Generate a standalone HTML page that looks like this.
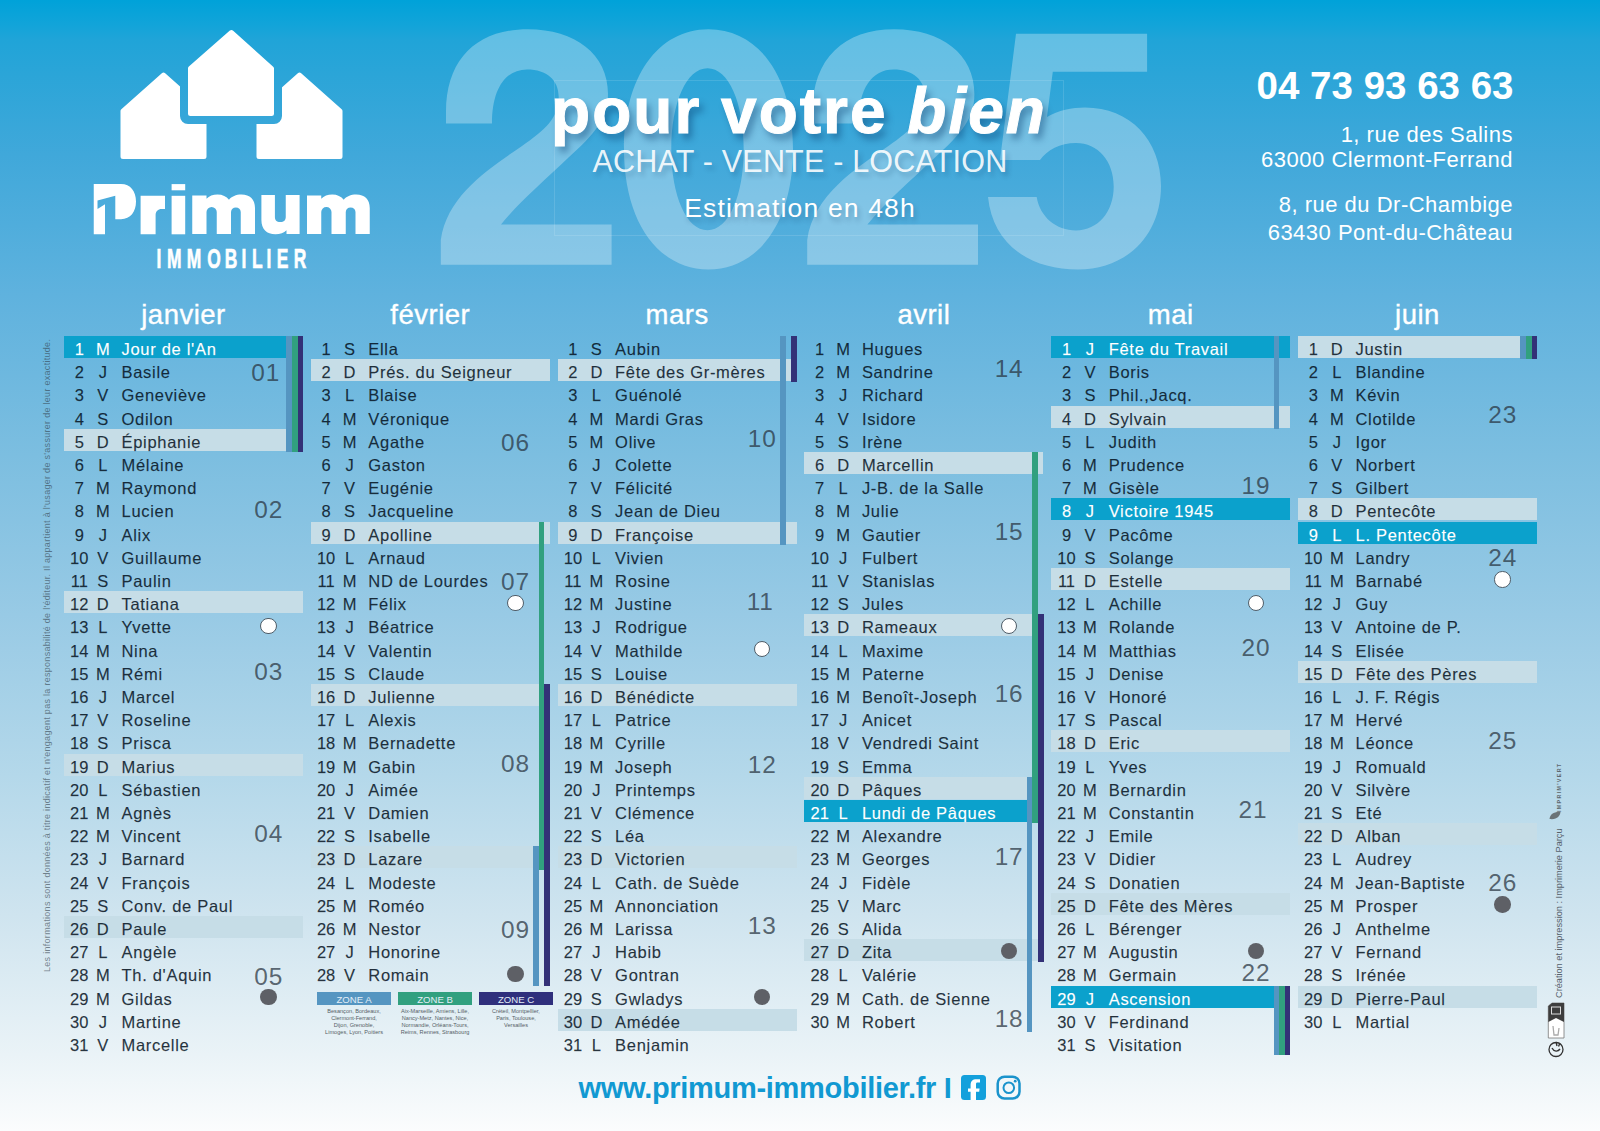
<!DOCTYPE html>
<html lang="fr">
<head>
<meta charset="utf-8">
<title>Primum Immobilier - Calendrier 2025</title>
<style>
html,body{margin:0;padding:0;}
body{width:1600px;height:1131px;overflow:hidden;position:relative;font-family:"Liberation Sans",sans-serif;
background:linear-gradient(to bottom,#00a2d9 0px,#12a4d9 25px,#20a4d8 40px,#2ba5d8 75px,#40a8da 155px,#5fb2de 295px,#7cbee0 455px,#98cae5 615px,#b4d8ea 775px,#cfe4ef 915px,#eaf3f7 1055px,#fbfcfd 1131px);}
.abs{position:absolute;}
/* header */
.y2025{position:absolute;left:430px;top:-16px;font-size:333px;font-weight:700;line-height:1;color:#fff;-webkit-text-stroke:3.2px #fff;opacity:0.3;letter-spacing:-0.6px;white-space:nowrap;}
.frame{position:absolute;left:554px;top:80px;width:508px;height:154px;border:1px solid rgba(255,255,255,0.12);}
.slogan{position:absolute;left:0;width:1600px;text-align:center;color:#fff;white-space:nowrap;}
.s1{left:-1px;top:73.5px;font-size:64px;font-weight:700;letter-spacing:2.0px;-webkit-text-stroke:0.7px #fff;text-shadow:4px 6px 7px rgba(0,45,95,0.4);-webkit-text-stroke:1px #fff;}
.s1 i{font-style:italic;}
.s2{top:144px;font-size:30.5px;font-weight:400;letter-spacing:0.2px;color:rgba(255,255,255,0.9);text-shadow:3px 4px 5px rgba(0,40,80,0.22);}
.s3{top:192.5px;font-size:26.5px;font-weight:400;letter-spacing:1.15px;text-shadow:2px 4px 5px rgba(0,40,80,0.25);}
.phone{position:absolute;right:86.5px;top:63.5px;font-size:38.5px;font-weight:700;color:#fff;white-space:nowrap;}
.addr{position:absolute;right:87px;font-size:22px;color:#fff;letter-spacing:0.5px;white-space:nowrap;text-align:right;line-height:22px;}
/* calendar */
.mt{position:absolute;top:298.5px;width:239px;text-align:center;color:#fff;font-size:27.5px;letter-spacing:0.5px;line-height:32px;-webkit-text-stroke:0.35px #fff;}
.hl{position:absolute;width:239px;height:22px;}
.sun{background:#c6dde7;}
.hol{background:#0ba1cc;}
.bar{position:absolute;width:5.7px;}
.zA{background:#5595c1;}
.zB{background:#31a07f;}
.zC{background:#333177;}
.r{position:absolute;width:239px;height:23.2px;line-height:23.2px;padding-top:1px;font-size:16.5px;color:rgba(5,18,30,0.86);-webkit-text-stroke:0.25px rgba(5,18,30,0.5);white-space:nowrap;}
.r span{position:absolute;top:2px;}
.r .n{left:0.3px;width:30px;text-align:center;}
.r .l{left:23.75px;width:30px;text-align:center;}
.r .nm{left:57.5px;letter-spacing:0.7px;}
.r.hw{color:#fff;-webkit-text-stroke:0.25px rgba(255,255,255,0.5);}
.wk{position:absolute;width:218.2px;text-align:right;font-size:24.4px;line-height:23.2px;padding-top:0px;letter-spacing:0.9px;color:rgba(40,52,64,0.74);}
.moon{position:absolute;width:16.4px;height:16.4px;margin-left:-8.2px;margin-top:-8.2px;border-radius:50%;box-sizing:border-box;}
.moon.w{background:#fff;border:1.7px solid #4f5d68;}
.moon.d{background:#5e6066;}
/* zones legend */
.zone{position:absolute;top:992px;width:74px;height:13px;color:#e3eef8;font-size:9.6px;text-align:center;line-height:15px;}
.ztxt{position:absolute;top:1008px;width:80px;text-align:center;font-size:5.6px;line-height:7px;color:#555e66;}
/* vertical texts */
.vleft{position:absolute;left:42px;top:972px;transform-origin:0 0;transform:rotate(-90deg);font-size:9px;letter-spacing:0.29px;line-height:10px;color:rgba(50,62,74,0.62);white-space:nowrap;}
.vright{position:absolute;left:1553.5px;top:998px;transform-origin:0 0;transform:rotate(-90deg);font-size:9.2px;line-height:10px;letter-spacing:0px;color:#56616b;white-space:nowrap;}
.foot{position:absolute;left:578.5px;top:1072px;font-size:29px;letter-spacing:-0.3px;font-weight:700;color:#1199d2;white-space:nowrap;}
</style>
</head>
<body>
<!-- big year -->
<svg class="abs" style="left:0;top:0" width="1200" height="290" viewBox="0 0 1200 290">
 <g fill="#fff" fill-opacity="0.3" fill-rule="evenodd">
  <path d="M 440.8 264.8 L 611.6 264.8 L 611.6 224.6 L 501 224.6 C 518 203 545 180 568 158 C 595 134 608 118 608 94 C 608 54 575 29.2 528 29.2 C 478 29.2 446 58 446 112 L 446 123.4 L 492 123.4 C 492 88 506 69.4 527 69.4 C 547 69.4 558.7 80 558.7 97 C 558.7 118 545 130 522 146 C 490 168 447 195 440.8 240 Z"/>
  <path d="M 708.5 29.200000000000017 C 759.2 29.200000000000017 793.0 77.24000000000002 793.0 149.3 C 793.0 221.36 759.2 269.4 708.5 269.4 C 657.8 269.4 624.0 221.36 624.0 149.3 C 624.0 77.24000000000002 657.8 29.200000000000017 708.5 29.200000000000017 Z M 707.5 68.30000000000001 C 728.496 68.30000000000001 743.7 102.32000000000002 743.7 149.3 C 743.7 196.28 728.496 230.3 707.5 230.3 C 686.504 230.3 671.3 196.28 671.3 149.3 C 671.3 102.32000000000002 686.504 68.30000000000001 707.5 68.30000000000001 Z"/>
  <path d="M 807.2 264.8 L 978.0 264.8 L 978.0 224.6 L 867.4 224.6 C 884.4 203 911.4 180 934.4 158 C 961.4 134 974.4 118 974.4 94 C 974.4 54 941.4 29.2 894.4 29.2 C 844.4 29.2 812.4 58 812.4 112 L 812.4 123.4 L 858.4 123.4 C 858.4 88 872.4 69.4 893.4 69.4 C 913.4 69.4 925.1 80 925.1 97 C 925.1 118 911.4 130 888.4 146 C 856.4 168 813.4 195 807.2 240 Z"/>
  <path d="M 1016 33.8 H 1147.1 V 71.7 H 1052.8 L 1047 117 C 1058 110 1072 107.4 1085 107.4 C 1130 107.4 1161 140 1161 186 C 1161 236 1126 269.5 1078 269.5 C 1030 269.5 993 245 988 197 L 1036.7 197 C 1040 217 1056 230.4 1076 230.4 C 1098 230.4 1113.7 212 1113.7 186.5 C 1113.7 161 1098 143 1076 143 C 1060 143 1047 150 1040 160 L 1000 160 Z"/>
 </g>
</svg>
<div class="frame"></div>

<!-- logo -->
<svg class="abs" style="left:0;top:0" width="420" height="290" viewBox="0 0 420 290">
 <defs>
  <mask id="hm" maskUnits="userSpaceOnUse" x="0" y="0" width="420" height="290">
   <rect x="0" y="0" width="420" height="290" fill="#fff"/>
   <path d="M231.5 30 L274 68 L274 116 L188 116 L188 68 Z" fill="#000" stroke="#000" stroke-width="16" stroke-linejoin="round"/>
  </mask>
 </defs>
 <g fill="#fff" stroke="#fff" stroke-width="5" stroke-linejoin="round" mask="url(#hm)">
  <path d="M163.5 75 L204 111 L204 156.5 L123 156.5 L123 111 Z"/>
  <path d="M299.5 75 L340 111 L340 156.5 L259 156.5 L259 111 Z"/>
 </g>
 <path d="M231.5 32.5 L271.5 68.5 L271.5 113.5 L190.5 113.5 L190.5 68.5 Z" fill="#fff" stroke="#fff" stroke-width="5" stroke-linejoin="round"/>
 <g fill="#fff">
  <path d="M 93.75 184.1 L 121 184.1 C 130.5 184.1 136 191.5 136 201.6 C 136 211.8 130.5 219.3 121 219.3 L 115.3 219.3 L 115.3 195.8 L 97.5 200.5 L 97.5 209 L 105 204.3 L 105 234.3 L 93.75 234.3 Z"/>
  <path d="M 140.6 234.3 V 195.8 H 165 V 209 H 161.5 C 158 209 155.6 211.5 155.6 215 V 234.3 Z"/>
  <rect x="171.6" y="184.1" width="13.6" height="6.2"/>
  <rect x="171.6" y="195.8" width="13.6" height="38.5"/>
  <path d="M 192.25 234 V 195.5 H 206.50 V 198.8 C 209.00 196 213.00 194.5 217.50 194.5 C 222.50 194.5 226.50 196.5 229.00 199.8 C 231.50 196.5 236.00 194.5 241.50 194.5 C 250.00 194.5 255.00 199.5 255.00 208 V 234 H 240.75 V 212.1 A 4.9 5.1 0 0 0 231.00 212.1 V 234 H 216.75 V 212.1 A 5.1 5.1 0 0 0 206.50 212.1 V 234 Z"/>
  <path d="M 261.4 195.1 H 274.9 V 217 C 274.9 220 276.5 222.1 280.3 222.1 C 284 222.1 285.75 220 285.75 217 V 195.1 H 299.6 V 233.9 H 286.5 V 230.2 C 284 232.8 280 234.3 275.5 234.3 C 266.5 234.3 261.4 229 261.4 220 Z"/>
  <path d="M 307.00 234 V 195.5 H 321.25 V 198.8 C 323.75 196 327.75 194.5 332.25 194.5 C 337.25 194.5 341.25 196.5 343.75 199.8 C 346.25 196.5 350.75 194.5 356.25 194.5 C 364.75 194.5 369.75 199.5 369.75 208 V 234 H 355.50 V 212.1 A 4.9 5.1 0 0 0 345.75 212.1 V 234 H 331.50 V 212.1 A 5.1 5.1 0 0 0 321.25 212.1 V 234 Z"/>
 </g>
 <g fill="#fff" stroke="#fff" stroke-width="0.7" font-family="Liberation Sans" font-weight="700" font-size="27.2" text-anchor="middle" transform="scale(0.64 1)">
  <text y="268.5"><tspan x="248.4">I</tspan><tspan x="272.3">M</tspan><tspan x="303.1">M</tspan><tspan x="334.4">O</tspan><tspan x="360.9">B</tspan><tspan x="381.3">I</tspan><tspan x="402.0">L</tspan><tspan x="420.3">I</tspan><tspan x="441.4">E</tspan><tspan x="468.75">R</tspan></text>
 </g>
</svg>

<!-- slogan -->
<div class="slogan s1">pour votre <i>bien</i></div>
<div class="slogan s2">ACHAT - VENTE - LOCATION</div>
<div class="slogan s3">Estimation en 48h</div>

<!-- contact -->
<div class="phone">04 73 93 63 63</div>
<div class="addr" style="top:123.5px">1, rue des Salins</div>
<div class="addr" style="top:149px">63000 Clermont-Ferrand</div>
<div class="addr" style="top:194px">8, rue du Dr-Chambige</div>
<div class="addr" style="top:221.5px">63430 Pont-du-Château</div>

<!-- calendar -->
<div class="mt" style="left:64.0px">janvier</div>
<div class="hl hol" style="left:64.0px;top:336.0px"></div>
<div class="hl sun" style="left:64.0px;top:428.8px"></div>
<div class="hl sun" style="left:64.0px;top:591.2px"></div>
<div class="hl sun" style="left:64.0px;top:753.6px"></div>
<div class="hl sun" style="left:64.0px;top:916.0px"></div>
<div class="bar zA" style="left:286.3px;top:336.0px;height:116.0px"></div>
<div class="bar zB" style="left:292.0px;top:336.0px;height:116.0px"></div>
<div class="bar zC" style="left:297.6px;top:336.0px;height:116.0px"></div>
<div class="r hw" style="left:64.0px;top:336.0px"><span class="n">1</span><span class="l">M</span><span class="nm">Jour de l'An</span></div>
<div class="r" style="left:64.0px;top:359.2px"><span class="n">2</span><span class="l">J</span><span class="nm">Basile</span></div>
<div class="r" style="left:64.0px;top:382.4px"><span class="n">3</span><span class="l">V</span><span class="nm">Geneviève</span></div>
<div class="r" style="left:64.0px;top:405.6px"><span class="n">4</span><span class="l">S</span><span class="nm">Odilon</span></div>
<div class="r" style="left:64.0px;top:428.8px"><span class="n">5</span><span class="l">D</span><span class="nm">Épiphanie</span></div>
<div class="r" style="left:64.0px;top:452.0px"><span class="n">6</span><span class="l">L</span><span class="nm">Mélaine</span></div>
<div class="r" style="left:64.0px;top:475.2px"><span class="n">7</span><span class="l">M</span><span class="nm">Raymond</span></div>
<div class="r" style="left:64.0px;top:498.4px"><span class="n">8</span><span class="l">M</span><span class="nm">Lucien</span></div>
<div class="r" style="left:64.0px;top:521.6px"><span class="n">9</span><span class="l">J</span><span class="nm">Alix</span></div>
<div class="r" style="left:64.0px;top:544.8px"><span class="n">10</span><span class="l">V</span><span class="nm">Guillaume</span></div>
<div class="r" style="left:64.0px;top:568.0px"><span class="n">11</span><span class="l">S</span><span class="nm">Paulin</span></div>
<div class="r" style="left:64.0px;top:591.2px"><span class="n">12</span><span class="l">D</span><span class="nm">Tatiana</span></div>
<div class="r" style="left:64.0px;top:614.4px"><span class="n">13</span><span class="l">L</span><span class="nm">Yvette</span></div>
<div class="r" style="left:64.0px;top:637.6px"><span class="n">14</span><span class="l">M</span><span class="nm">Nina</span></div>
<div class="r" style="left:64.0px;top:660.8px"><span class="n">15</span><span class="l">M</span><span class="nm">Rémi</span></div>
<div class="r" style="left:64.0px;top:684.0px"><span class="n">16</span><span class="l">J</span><span class="nm">Marcel</span></div>
<div class="r" style="left:64.0px;top:707.2px"><span class="n">17</span><span class="l">V</span><span class="nm">Roseline</span></div>
<div class="r" style="left:64.0px;top:730.4px"><span class="n">18</span><span class="l">S</span><span class="nm">Prisca</span></div>
<div class="r" style="left:64.0px;top:753.6px"><span class="n">19</span><span class="l">D</span><span class="nm">Marius</span></div>
<div class="r" style="left:64.0px;top:776.8px"><span class="n">20</span><span class="l">L</span><span class="nm">Sébastien</span></div>
<div class="r" style="left:64.0px;top:800.0px"><span class="n">21</span><span class="l">M</span><span class="nm">Agnès</span></div>
<div class="r" style="left:64.0px;top:823.2px"><span class="n">22</span><span class="l">M</span><span class="nm">Vincent</span></div>
<div class="r" style="left:64.0px;top:846.4px"><span class="n">23</span><span class="l">J</span><span class="nm">Barnard</span></div>
<div class="r" style="left:64.0px;top:869.6px"><span class="n">24</span><span class="l">V</span><span class="nm">François</span></div>
<div class="r" style="left:64.0px;top:892.8px"><span class="n">25</span><span class="l">S</span><span class="nm">Conv. de Paul</span></div>
<div class="r" style="left:64.0px;top:916.0px"><span class="n">26</span><span class="l">D</span><span class="nm">Paule</span></div>
<div class="r" style="left:64.0px;top:939.2px"><span class="n">27</span><span class="l">L</span><span class="nm">Angèle</span></div>
<div class="r" style="left:64.0px;top:962.4px"><span class="n">28</span><span class="l">M</span><span class="nm">Th. d'Aquin</span></div>
<div class="r" style="left:64.0px;top:985.6px"><span class="n">29</span><span class="l">M</span><span class="nm">Gildas</span></div>
<div class="r" style="left:64.0px;top:1008.8px"><span class="n">30</span><span class="l">J</span><span class="nm">Martine</span></div>
<div class="r" style="left:64.0px;top:1032.0px"><span class="n">31</span><span class="l">V</span><span class="nm">Marcelle</span></div>
<div class="wk" style="left:62.0px;top:361.0px">01</div>
<div class="wk" style="left:65.0px;top:498.0px">02</div>
<div class="wk" style="left:65.0px;top:659.7px">03</div>
<div class="wk" style="left:65.0px;top:821.9px">04</div>
<div class="wk" style="left:65.0px;top:964.5px">05</div>
<div class="moon w" style="left:268.6px;top:626.0px"></div>
<div class="moon d" style="left:268.6px;top:997.2px"></div>
<div class="mt" style="left:310.8px">février</div>
<div class="hl sun" style="left:310.8px;top:359.2px"></div>
<div class="hl sun" style="left:310.8px;top:521.6px"></div>
<div class="hl sun" style="left:310.8px;top:684.0px"></div>
<div class="hl sun" style="left:310.8px;top:846.4px"></div>
<div class="bar zA" style="left:533.1px;top:846.4px;height:139.2px"></div>
<div class="bar zB" style="left:538.8px;top:521.6px;height:348.0px"></div>
<div class="bar zC" style="left:544.4px;top:684.0px;height:301.6px"></div>
<div class="r" style="left:310.8px;top:336.0px"><span class="n">1</span><span class="l">S</span><span class="nm">Ella</span></div>
<div class="r" style="left:310.8px;top:359.2px"><span class="n">2</span><span class="l">D</span><span class="nm">Prés. du Seigneur</span></div>
<div class="r" style="left:310.8px;top:382.4px"><span class="n">3</span><span class="l">L</span><span class="nm">Blaise</span></div>
<div class="r" style="left:310.8px;top:405.6px"><span class="n">4</span><span class="l">M</span><span class="nm">Véronique</span></div>
<div class="r" style="left:310.8px;top:428.8px"><span class="n">5</span><span class="l">M</span><span class="nm">Agathe</span></div>
<div class="r" style="left:310.8px;top:452.0px"><span class="n">6</span><span class="l">J</span><span class="nm">Gaston</span></div>
<div class="r" style="left:310.8px;top:475.2px"><span class="n">7</span><span class="l">V</span><span class="nm">Eugénie</span></div>
<div class="r" style="left:310.8px;top:498.4px"><span class="n">8</span><span class="l">S</span><span class="nm">Jacqueline</span></div>
<div class="r" style="left:310.8px;top:521.6px"><span class="n">9</span><span class="l">D</span><span class="nm">Apolline</span></div>
<div class="r" style="left:310.8px;top:544.8px"><span class="n">10</span><span class="l">L</span><span class="nm">Arnaud</span></div>
<div class="r" style="left:310.8px;top:568.0px"><span class="n">11</span><span class="l">M</span><span class="nm">ND de Lourdes</span></div>
<div class="r" style="left:310.8px;top:591.2px"><span class="n">12</span><span class="l">M</span><span class="nm">Félix</span></div>
<div class="r" style="left:310.8px;top:614.4px"><span class="n">13</span><span class="l">J</span><span class="nm">Béatrice</span></div>
<div class="r" style="left:310.8px;top:637.6px"><span class="n">14</span><span class="l">V</span><span class="nm">Valentin</span></div>
<div class="r" style="left:310.8px;top:660.8px"><span class="n">15</span><span class="l">S</span><span class="nm">Claude</span></div>
<div class="r" style="left:310.8px;top:684.0px"><span class="n">16</span><span class="l">D</span><span class="nm">Julienne</span></div>
<div class="r" style="left:310.8px;top:707.2px"><span class="n">17</span><span class="l">L</span><span class="nm">Alexis</span></div>
<div class="r" style="left:310.8px;top:730.4px"><span class="n">18</span><span class="l">M</span><span class="nm">Bernadette</span></div>
<div class="r" style="left:310.8px;top:753.6px"><span class="n">19</span><span class="l">M</span><span class="nm">Gabin</span></div>
<div class="r" style="left:310.8px;top:776.8px"><span class="n">20</span><span class="l">J</span><span class="nm">Aimée</span></div>
<div class="r" style="left:310.8px;top:800.0px"><span class="n">21</span><span class="l">V</span><span class="nm">Damien</span></div>
<div class="r" style="left:310.8px;top:823.2px"><span class="n">22</span><span class="l">S</span><span class="nm">Isabelle</span></div>
<div class="r" style="left:310.8px;top:846.4px"><span class="n">23</span><span class="l">D</span><span class="nm">Lazare</span></div>
<div class="r" style="left:310.8px;top:869.6px"><span class="n">24</span><span class="l">L</span><span class="nm">Modeste</span></div>
<div class="r" style="left:310.8px;top:892.8px"><span class="n">25</span><span class="l">M</span><span class="nm">Roméo</span></div>
<div class="r" style="left:310.8px;top:916.0px"><span class="n">26</span><span class="l">M</span><span class="nm">Nestor</span></div>
<div class="r" style="left:310.8px;top:939.2px"><span class="n">27</span><span class="l">J</span><span class="nm">Honorine</span></div>
<div class="r" style="left:310.8px;top:962.4px"><span class="n">28</span><span class="l">V</span><span class="nm">Romain</span></div>
<div class="wk" style="left:311.8px;top:430.5px">06</div>
<div class="wk" style="left:311.8px;top:569.6px">07</div>
<div class="wk" style="left:311.8px;top:751.8px">08</div>
<div class="wk" style="left:311.8px;top:917.8px">09</div>
<div class="moon w" style="left:515.4px;top:602.8px"></div>
<div class="moon d" style="left:515.4px;top:974.0px"></div>
<div class="mt" style="left:557.6px">mars</div>
<div class="hl sun" style="left:557.6px;top:359.2px"></div>
<div class="hl sun" style="left:557.6px;top:521.6px"></div>
<div class="hl sun" style="left:557.6px;top:684.0px"></div>
<div class="hl sun" style="left:557.6px;top:846.4px"></div>
<div class="hl sun" style="left:557.6px;top:1008.8px"></div>
<div class="bar zA" style="left:779.9px;top:336.0px;height:208.8px"></div>
<div class="bar zC" style="left:791.2px;top:336.0px;height:46.4px"></div>
<div class="r" style="left:557.6px;top:336.0px"><span class="n">1</span><span class="l">S</span><span class="nm">Aubin</span></div>
<div class="r" style="left:557.6px;top:359.2px"><span class="n">2</span><span class="l">D</span><span class="nm">Fête des Gr-mères</span></div>
<div class="r" style="left:557.6px;top:382.4px"><span class="n">3</span><span class="l">L</span><span class="nm">Guénolé</span></div>
<div class="r" style="left:557.6px;top:405.6px"><span class="n">4</span><span class="l">M</span><span class="nm">Mardi Gras</span></div>
<div class="r" style="left:557.6px;top:428.8px"><span class="n">5</span><span class="l">M</span><span class="nm">Olive</span></div>
<div class="r" style="left:557.6px;top:452.0px"><span class="n">6</span><span class="l">J</span><span class="nm">Colette</span></div>
<div class="r" style="left:557.6px;top:475.2px"><span class="n">7</span><span class="l">V</span><span class="nm">Félicité</span></div>
<div class="r" style="left:557.6px;top:498.4px"><span class="n">8</span><span class="l">S</span><span class="nm">Jean de Dieu</span></div>
<div class="r" style="left:557.6px;top:521.6px"><span class="n">9</span><span class="l">D</span><span class="nm">Françoise</span></div>
<div class="r" style="left:557.6px;top:544.8px"><span class="n">10</span><span class="l">L</span><span class="nm">Vivien</span></div>
<div class="r" style="left:557.6px;top:568.0px"><span class="n">11</span><span class="l">M</span><span class="nm">Rosine</span></div>
<div class="r" style="left:557.6px;top:591.2px"><span class="n">12</span><span class="l">M</span><span class="nm">Justine</span></div>
<div class="r" style="left:557.6px;top:614.4px"><span class="n">13</span><span class="l">J</span><span class="nm">Rodrigue</span></div>
<div class="r" style="left:557.6px;top:637.6px"><span class="n">14</span><span class="l">V</span><span class="nm">Mathilde</span></div>
<div class="r" style="left:557.6px;top:660.8px"><span class="n">15</span><span class="l">S</span><span class="nm">Louise</span></div>
<div class="r" style="left:557.6px;top:684.0px"><span class="n">16</span><span class="l">D</span><span class="nm">Bénédicte</span></div>
<div class="r" style="left:557.6px;top:707.2px"><span class="n">17</span><span class="l">L</span><span class="nm">Patrice</span></div>
<div class="r" style="left:557.6px;top:730.4px"><span class="n">18</span><span class="l">M</span><span class="nm">Cyrille</span></div>
<div class="r" style="left:557.6px;top:753.6px"><span class="n">19</span><span class="l">M</span><span class="nm">Joseph</span></div>
<div class="r" style="left:557.6px;top:776.8px"><span class="n">20</span><span class="l">J</span><span class="nm">Printemps</span></div>
<div class="r" style="left:557.6px;top:800.0px"><span class="n">21</span><span class="l">V</span><span class="nm">Clémence</span></div>
<div class="r" style="left:557.6px;top:823.2px"><span class="n">22</span><span class="l">S</span><span class="nm">Léa</span></div>
<div class="r" style="left:557.6px;top:846.4px"><span class="n">23</span><span class="l">D</span><span class="nm">Victorien</span></div>
<div class="r" style="left:557.6px;top:869.6px"><span class="n">24</span><span class="l">L</span><span class="nm">Cath. de Suède</span></div>
<div class="r" style="left:557.6px;top:892.8px"><span class="n">25</span><span class="l">M</span><span class="nm">Annonciation</span></div>
<div class="r" style="left:557.6px;top:916.0px"><span class="n">26</span><span class="l">M</span><span class="nm">Larissa</span></div>
<div class="r" style="left:557.6px;top:939.2px"><span class="n">27</span><span class="l">J</span><span class="nm">Habib</span></div>
<div class="r" style="left:557.6px;top:962.4px"><span class="n">28</span><span class="l">V</span><span class="nm">Gontran</span></div>
<div class="r" style="left:557.6px;top:985.6px"><span class="n">29</span><span class="l">S</span><span class="nm">Gwladys</span></div>
<div class="r" style="left:557.6px;top:1008.8px"><span class="n">30</span><span class="l">D</span><span class="nm">Amédée</span></div>
<div class="r" style="left:557.6px;top:1032.0px"><span class="n">31</span><span class="l">L</span><span class="nm">Benjamin</span></div>
<div class="wk" style="left:558.6px;top:426.8px">10</div>
<div class="wk" style="left:555.6px;top:589.5px">11</div>
<div class="wk" style="left:558.6px;top:752.5px">12</div>
<div class="wk" style="left:558.6px;top:914.2px">13</div>
<div class="moon w" style="left:762.2px;top:649.2px"></div>
<div class="moon d" style="left:762.2px;top:997.2px"></div>
<div class="mt" style="left:804.4px">avril</div>
<div class="hl sun" style="left:804.4px;top:452.0px"></div>
<div class="hl sun" style="left:804.4px;top:614.4px"></div>
<div class="hl sun" style="left:804.4px;top:776.8px"></div>
<div class="hl hol" style="left:804.4px;top:800.0px"></div>
<div class="hl sun" style="left:804.4px;top:939.2px"></div>
<div class="bar zA" style="left:1026.7px;top:776.8px;height:255.2px"></div>
<div class="bar zB" style="left:1032.4px;top:452.0px;height:371.2px"></div>
<div class="bar zC" style="left:1038.0px;top:614.4px;height:348.0px"></div>
<div class="r" style="left:804.4px;top:336.0px"><span class="n">1</span><span class="l">M</span><span class="nm">Hugues</span></div>
<div class="r" style="left:804.4px;top:359.2px"><span class="n">2</span><span class="l">M</span><span class="nm">Sandrine</span></div>
<div class="r" style="left:804.4px;top:382.4px"><span class="n">3</span><span class="l">J</span><span class="nm">Richard</span></div>
<div class="r" style="left:804.4px;top:405.6px"><span class="n">4</span><span class="l">V</span><span class="nm">Isidore</span></div>
<div class="r" style="left:804.4px;top:428.8px"><span class="n">5</span><span class="l">S</span><span class="nm">Irène</span></div>
<div class="r" style="left:804.4px;top:452.0px"><span class="n">6</span><span class="l">D</span><span class="nm">Marcellin</span></div>
<div class="r" style="left:804.4px;top:475.2px"><span class="n">7</span><span class="l">L</span><span class="nm">J-B. de la Salle</span></div>
<div class="r" style="left:804.4px;top:498.4px"><span class="n">8</span><span class="l">M</span><span class="nm">Julie</span></div>
<div class="r" style="left:804.4px;top:521.6px"><span class="n">9</span><span class="l">M</span><span class="nm">Gautier</span></div>
<div class="r" style="left:804.4px;top:544.8px"><span class="n">10</span><span class="l">J</span><span class="nm">Fulbert</span></div>
<div class="r" style="left:804.4px;top:568.0px"><span class="n">11</span><span class="l">V</span><span class="nm">Stanislas</span></div>
<div class="r" style="left:804.4px;top:591.2px"><span class="n">12</span><span class="l">S</span><span class="nm">Jules</span></div>
<div class="r" style="left:804.4px;top:614.4px"><span class="n">13</span><span class="l">D</span><span class="nm">Rameaux</span></div>
<div class="r" style="left:804.4px;top:637.6px"><span class="n">14</span><span class="l">L</span><span class="nm">Maxime</span></div>
<div class="r" style="left:804.4px;top:660.8px"><span class="n">15</span><span class="l">M</span><span class="nm">Paterne</span></div>
<div class="r" style="left:804.4px;top:684.0px"><span class="n">16</span><span class="l">M</span><span class="nm">Benoît-Joseph</span></div>
<div class="r" style="left:804.4px;top:707.2px"><span class="n">17</span><span class="l">J</span><span class="nm">Anicet</span></div>
<div class="r" style="left:804.4px;top:730.4px"><span class="n">18</span><span class="l">V</span><span class="nm">Vendredi Saint</span></div>
<div class="r" style="left:804.4px;top:753.6px"><span class="n">19</span><span class="l">S</span><span class="nm">Emma</span></div>
<div class="r" style="left:804.4px;top:776.8px"><span class="n">20</span><span class="l">D</span><span class="nm">Pâques</span></div>
<div class="r hw" style="left:804.4px;top:800.0px"><span class="n">21</span><span class="l">L</span><span class="nm">Lundi de Pâques</span></div>
<div class="r" style="left:804.4px;top:823.2px"><span class="n">22</span><span class="l">M</span><span class="nm">Alexandre</span></div>
<div class="r" style="left:804.4px;top:846.4px"><span class="n">23</span><span class="l">M</span><span class="nm">Georges</span></div>
<div class="r" style="left:804.4px;top:869.6px"><span class="n">24</span><span class="l">J</span><span class="nm">Fidèle</span></div>
<div class="r" style="left:804.4px;top:892.8px"><span class="n">25</span><span class="l">V</span><span class="nm">Marc</span></div>
<div class="r" style="left:804.4px;top:916.0px"><span class="n">26</span><span class="l">S</span><span class="nm">Alida</span></div>
<div class="r" style="left:804.4px;top:939.2px"><span class="n">27</span><span class="l">D</span><span class="nm">Zita</span></div>
<div class="r" style="left:804.4px;top:962.4px"><span class="n">28</span><span class="l">L</span><span class="nm">Valérie</span></div>
<div class="r" style="left:804.4px;top:985.6px"><span class="n">29</span><span class="l">M</span><span class="nm">Cath. de Sienne</span></div>
<div class="r" style="left:804.4px;top:1008.8px"><span class="n">30</span><span class="l">M</span><span class="nm">Robert</span></div>
<div class="wk" style="left:805.4px;top:357.4px">14</div>
<div class="wk" style="left:805.4px;top:520.0px">15</div>
<div class="wk" style="left:805.4px;top:682.2px">16</div>
<div class="wk" style="left:805.4px;top:845.0px">17</div>
<div class="wk" style="left:805.4px;top:1007.4px">18</div>
<div class="moon w" style="left:1009.0px;top:626.0px"></div>
<div class="moon d" style="left:1009.0px;top:950.8px"></div>
<div class="mt" style="left:1051.2px">mai</div>
<div class="hl hol" style="left:1051.2px;top:336.0px"></div>
<div class="hl sun" style="left:1051.2px;top:405.6px"></div>
<div class="hl hol" style="left:1051.2px;top:498.4px"></div>
<div class="hl sun" style="left:1051.2px;top:568.0px"></div>
<div class="hl sun" style="left:1051.2px;top:730.4px"></div>
<div class="hl sun" style="left:1051.2px;top:892.8px"></div>
<div class="hl hol" style="left:1051.2px;top:985.6px"></div>
<div class="bar zA" style="left:1273.5px;top:336.0px;height:92.8px"></div>
<div class="bar zA" style="left:1273.5px;top:985.6px;height:69.6px"></div>
<div class="bar zB" style="left:1279.2px;top:985.6px;height:69.6px"></div>
<div class="bar zC" style="left:1284.8px;top:985.6px;height:69.6px"></div>
<div class="r hw" style="left:1051.2px;top:336.0px"><span class="n">1</span><span class="l">J</span><span class="nm">Fête du Travail</span></div>
<div class="r" style="left:1051.2px;top:359.2px"><span class="n">2</span><span class="l">V</span><span class="nm">Boris</span></div>
<div class="r" style="left:1051.2px;top:382.4px"><span class="n">3</span><span class="l">S</span><span class="nm">Phil.,Jacq.</span></div>
<div class="r" style="left:1051.2px;top:405.6px"><span class="n">4</span><span class="l">D</span><span class="nm">Sylvain</span></div>
<div class="r" style="left:1051.2px;top:428.8px"><span class="n">5</span><span class="l">L</span><span class="nm">Judith</span></div>
<div class="r" style="left:1051.2px;top:452.0px"><span class="n">6</span><span class="l">M</span><span class="nm">Prudence</span></div>
<div class="r" style="left:1051.2px;top:475.2px"><span class="n">7</span><span class="l">M</span><span class="nm">Gisèle</span></div>
<div class="r hw" style="left:1051.2px;top:498.4px"><span class="n">8</span><span class="l">J</span><span class="nm">Victoire 1945</span></div>
<div class="r" style="left:1051.2px;top:521.6px"><span class="n">9</span><span class="l">V</span><span class="nm">Pacôme</span></div>
<div class="r" style="left:1051.2px;top:544.8px"><span class="n">10</span><span class="l">S</span><span class="nm">Solange</span></div>
<div class="r" style="left:1051.2px;top:568.0px"><span class="n">11</span><span class="l">D</span><span class="nm">Estelle</span></div>
<div class="r" style="left:1051.2px;top:591.2px"><span class="n">12</span><span class="l">L</span><span class="nm">Achille</span></div>
<div class="r" style="left:1051.2px;top:614.4px"><span class="n">13</span><span class="l">M</span><span class="nm">Rolande</span></div>
<div class="r" style="left:1051.2px;top:637.6px"><span class="n">14</span><span class="l">M</span><span class="nm">Matthias</span></div>
<div class="r" style="left:1051.2px;top:660.8px"><span class="n">15</span><span class="l">J</span><span class="nm">Denise</span></div>
<div class="r" style="left:1051.2px;top:684.0px"><span class="n">16</span><span class="l">V</span><span class="nm">Honoré</span></div>
<div class="r" style="left:1051.2px;top:707.2px"><span class="n">17</span><span class="l">S</span><span class="nm">Pascal</span></div>
<div class="r" style="left:1051.2px;top:730.4px"><span class="n">18</span><span class="l">D</span><span class="nm">Eric</span></div>
<div class="r" style="left:1051.2px;top:753.6px"><span class="n">19</span><span class="l">L</span><span class="nm">Yves</span></div>
<div class="r" style="left:1051.2px;top:776.8px"><span class="n">20</span><span class="l">M</span><span class="nm">Bernardin</span></div>
<div class="r" style="left:1051.2px;top:800.0px"><span class="n">21</span><span class="l">M</span><span class="nm">Constantin</span></div>
<div class="r" style="left:1051.2px;top:823.2px"><span class="n">22</span><span class="l">J</span><span class="nm">Emile</span></div>
<div class="r" style="left:1051.2px;top:846.4px"><span class="n">23</span><span class="l">V</span><span class="nm">Didier</span></div>
<div class="r" style="left:1051.2px;top:869.6px"><span class="n">24</span><span class="l">S</span><span class="nm">Donatien</span></div>
<div class="r" style="left:1051.2px;top:892.8px"><span class="n">25</span><span class="l">D</span><span class="nm">Fête des Mères</span></div>
<div class="r" style="left:1051.2px;top:916.0px"><span class="n">26</span><span class="l">L</span><span class="nm">Bérenger</span></div>
<div class="r" style="left:1051.2px;top:939.2px"><span class="n">27</span><span class="l">M</span><span class="nm">Augustin</span></div>
<div class="r" style="left:1051.2px;top:962.4px"><span class="n">28</span><span class="l">M</span><span class="nm">Germain</span></div>
<div class="r hw" style="left:1051.2px;top:985.6px"><span class="n">29</span><span class="l">J</span><span class="nm">Ascension</span></div>
<div class="r" style="left:1051.2px;top:1008.8px"><span class="n">30</span><span class="l">V</span><span class="nm">Ferdinand</span></div>
<div class="r" style="left:1051.2px;top:1032.0px"><span class="n">31</span><span class="l">S</span><span class="nm">Visitation</span></div>
<div class="wk" style="left:1052.2px;top:473.5px">19</div>
<div class="wk" style="left:1052.2px;top:635.7px">20</div>
<div class="wk" style="left:1049.2px;top:798.0px">21</div>
<div class="wk" style="left:1052.2px;top:960.7px">22</div>
<div class="moon w" style="left:1255.8px;top:602.8px"></div>
<div class="moon d" style="left:1255.8px;top:950.8px"></div>
<div class="mt" style="left:1298.0px">juin</div>
<div class="hl sun" style="left:1298.0px;top:336.0px"></div>
<div class="hl sun" style="left:1298.0px;top:498.4px"></div>
<div class="hl hol" style="left:1298.0px;top:521.6px"></div>
<div class="hl sun" style="left:1298.0px;top:660.8px"></div>
<div class="hl sun" style="left:1298.0px;top:823.2px"></div>
<div class="hl sun" style="left:1298.0px;top:985.6px"></div>
<div class="bar zA" style="left:1520.3px;top:336.0px;height:23.2px"></div>
<div class="bar zB" style="left:1526.0px;top:336.0px;height:23.2px"></div>
<div class="bar zC" style="left:1531.6px;top:336.0px;height:23.2px"></div>
<div class="r" style="left:1298.0px;top:336.0px"><span class="n">1</span><span class="l">D</span><span class="nm">Justin</span></div>
<div class="r" style="left:1298.0px;top:359.2px"><span class="n">2</span><span class="l">L</span><span class="nm">Blandine</span></div>
<div class="r" style="left:1298.0px;top:382.4px"><span class="n">3</span><span class="l">M</span><span class="nm">Kévin</span></div>
<div class="r" style="left:1298.0px;top:405.6px"><span class="n">4</span><span class="l">M</span><span class="nm">Clotilde</span></div>
<div class="r" style="left:1298.0px;top:428.8px"><span class="n">5</span><span class="l">J</span><span class="nm">Igor</span></div>
<div class="r" style="left:1298.0px;top:452.0px"><span class="n">6</span><span class="l">V</span><span class="nm">Norbert</span></div>
<div class="r" style="left:1298.0px;top:475.2px"><span class="n">7</span><span class="l">S</span><span class="nm">Gilbert</span></div>
<div class="r" style="left:1298.0px;top:498.4px"><span class="n">8</span><span class="l">D</span><span class="nm">Pentecôte</span></div>
<div class="r hw" style="left:1298.0px;top:521.6px"><span class="n">9</span><span class="l">L</span><span class="nm">L. Pentecôte</span></div>
<div class="r" style="left:1298.0px;top:544.8px"><span class="n">10</span><span class="l">M</span><span class="nm">Landry</span></div>
<div class="r" style="left:1298.0px;top:568.0px"><span class="n">11</span><span class="l">M</span><span class="nm">Barnabé</span></div>
<div class="r" style="left:1298.0px;top:591.2px"><span class="n">12</span><span class="l">J</span><span class="nm">Guy</span></div>
<div class="r" style="left:1298.0px;top:614.4px"><span class="n">13</span><span class="l">V</span><span class="nm">Antoine de P.</span></div>
<div class="r" style="left:1298.0px;top:637.6px"><span class="n">14</span><span class="l">S</span><span class="nm">Elisée</span></div>
<div class="r" style="left:1298.0px;top:660.8px"><span class="n">15</span><span class="l">D</span><span class="nm">Fête des Pères</span></div>
<div class="r" style="left:1298.0px;top:684.0px"><span class="n">16</span><span class="l">L</span><span class="nm">J. F. Régis</span></div>
<div class="r" style="left:1298.0px;top:707.2px"><span class="n">17</span><span class="l">M</span><span class="nm">Hervé</span></div>
<div class="r" style="left:1298.0px;top:730.4px"><span class="n">18</span><span class="l">M</span><span class="nm">Léonce</span></div>
<div class="r" style="left:1298.0px;top:753.6px"><span class="n">19</span><span class="l">J</span><span class="nm">Romuald</span></div>
<div class="r" style="left:1298.0px;top:776.8px"><span class="n">20</span><span class="l">V</span><span class="nm">Silvère</span></div>
<div class="r" style="left:1298.0px;top:800.0px"><span class="n">21</span><span class="l">S</span><span class="nm">Eté</span></div>
<div class="r" style="left:1298.0px;top:823.2px"><span class="n">22</span><span class="l">D</span><span class="nm">Alban</span></div>
<div class="r" style="left:1298.0px;top:846.4px"><span class="n">23</span><span class="l">L</span><span class="nm">Audrey</span></div>
<div class="r" style="left:1298.0px;top:869.6px"><span class="n">24</span><span class="l">M</span><span class="nm">Jean-Baptiste</span></div>
<div class="r" style="left:1298.0px;top:892.8px"><span class="n">25</span><span class="l">M</span><span class="nm">Prosper</span></div>
<div class="r" style="left:1298.0px;top:916.0px"><span class="n">26</span><span class="l">J</span><span class="nm">Anthelme</span></div>
<div class="r" style="left:1298.0px;top:939.2px"><span class="n">27</span><span class="l">V</span><span class="nm">Fernand</span></div>
<div class="r" style="left:1298.0px;top:962.4px"><span class="n">28</span><span class="l">S</span><span class="nm">Irénée</span></div>
<div class="r" style="left:1298.0px;top:985.6px"><span class="n">29</span><span class="l">D</span><span class="nm">Pierre-Paul</span></div>
<div class="r" style="left:1298.0px;top:1008.8px"><span class="n">30</span><span class="l">L</span><span class="nm">Martial</span></div>
<div class="wk" style="left:1299.0px;top:403.0px">23</div>
<div class="wk" style="left:1299.0px;top:546.4px">24</div>
<div class="wk" style="left:1299.0px;top:729.0px">25</div>
<div class="wk" style="left:1299.0px;top:870.9px">26</div>
<div class="moon w" style="left:1502.6px;top:579.6px"></div>
<div class="moon d" style="left:1502.6px;top:904.4px"></div>

<!-- zones -->
<div class="zone" style="left:317px;background:#5595c1">ZONE A</div>
<div class="zone" style="left:398px;background:#31a07f">ZONE B</div>
<div class="zone" style="left:479px;background:#2f2f7c">ZONE C</div>
<div class="ztxt" style="left:314px">Besançon, Bordeaux,<br>Clermont-Ferrand,<br>Dijon, Grenoble,<br>Limoges, Lyon, Poitiers</div>
<div class="ztxt" style="left:395px">Aix-Marseille, Amiens, Lille,<br>Nancy-Metz, Nantes, Nice,<br>Normandie, Orléans-Tours,<br>Reims, Rennes, Strasbourg</div>
<div class="ztxt" style="left:476px">Créteil, Montpellier,<br>Paris, Toulouse,<br>Versailles</div>

<!-- vertical texts -->
<div class="vleft">Les informations sont données à titre indicatif et n'engagent pas la responsabilité de l'éditeur. Il appartient à l'usager de s'assurer de leur exactitude.</div>
<div class="vright">Création et impression : Imprimerie Parçu</div>

<!-- footer -->
<div class="foot">www.primum-immobilier.fr I</div>
<svg class="abs" style="left:961px;top:1075px" width="25" height="25" viewBox="0 0 25 25">
 <rect x="0" y="0" width="25" height="25" rx="3.5" fill="#13a0dc"/>
 <path d="M 9.6 25 V 16.8 H 7 V 13.5 H 9.6 V 10 C 9.6 6 11.5 4.2 15.5 4.2 H 19 V 7.6 H 16.6 C 15.4 7.6 15 8.2 15 9.3 V 13.5 H 18.6 L 18.2 16.8 H 15 V 25 Z" fill="#fff"/>
</svg>
<svg class="abs" style="left:996px;top:1074.5px" width="26" height="26" viewBox="0 0 26 26">
 <rect x="1.7" y="1.7" width="21.8" height="21.8" rx="6.8" fill="none" stroke="#1a93cc" stroke-width="2.5"/>
 <circle cx="12.8" cy="12.8" r="5.3" fill="none" stroke="#1a93cc" stroke-width="2"/>
 <circle cx="19.2" cy="6.2" r="1.4" fill="#1a93cc"/>
</svg>
<!-- printer marks -->
<svg class="abs" style="left:1546px;top:760px" width="22" height="300" viewBox="0 0 22 300">
 <path d="M 3.5 59 C 4 54 8 51.5 14.5 52 C 14 56 11 60 3.5 59 Z" fill="#6a7377"/>
 <text transform="translate(14.6 52) rotate(-90)" font-family="Liberation Sans" font-weight="700" font-size="5.4" fill="#5d676d" letter-spacing="1.3">IMPRIM'VERT</text>
 <path d="M 2.3 246 L 2.3 278 L 18 278 L 18 243 L 6 243 Z" fill="#fff" stroke="#777" stroke-width="0.8"/>
 <path d="M 2.3 246 L 6 243 L 18 243 L 18 262 L 10 258 L 2.3 262 Z" fill="#3d3d3d"/>
 <rect x="5.5" y="247" width="9" height="7" fill="none" stroke="#ddd" stroke-width="1"/>
 <path d="M 7 266 L 8 275 L 12 275 L 13 268" fill="none" stroke="#aaa" stroke-width="1.3"/>
 <circle cx="10" cy="289.5" r="7" fill="none" stroke="#333" stroke-width="1.3"/>
 <path d="M 6 288 C 8 292 12 292 14 289 M 10 282 L 11 286 M 14 283 L 12.5 286.5" fill="none" stroke="#333" stroke-width="1.4"/>
</svg>
</body>
</html>
